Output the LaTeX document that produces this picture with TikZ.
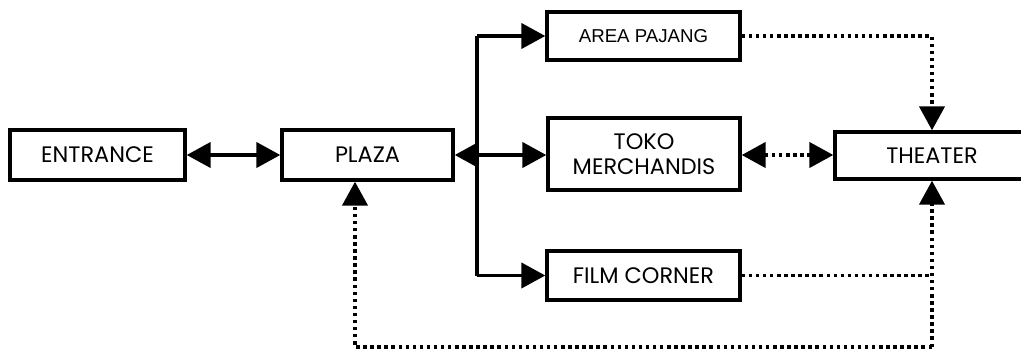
\documentclass[tikz,border=0pt]{standalone}
\usepackage{fontspec}
\setmainfont{Poppins}
\newfontfamily\arialf{Liberation Sans}
\usetikzlibrary{arrows.meta}
\tikzset{
  box/.style={draw, line width=2.6pt, fill=white, inner sep=0pt, align=center,
    font=\fontsize{16.8}{18.75}\selectfont},
  conn/.style={line width=2.5pt},
  dots/.style={line width=2.6pt, dash pattern=on 2.6pt off 2.7pt},
  tip/.style={-{Triangle[length=18pt,width=19pt]}},
  tips/.style={{Triangle[length=18pt,width=19pt]}-{Triangle[length=18pt,width=19pt]}}
}
\begin{document}
\begin{tikzpicture}[x=0.75pt,y=-0.75pt]
\useasboundingbox (0,0) rectangle (1021,350);
\node[box, minimum width=131.25pt, minimum height=37.5pt] (entrance) at (97.5,155) {ENTRANCE};
\node[box, minimum width=128.25pt, minimum height=37.5pt] (plaza) at (367.5,155) {PLAZA};
\node[box, minimum width=144.75pt, minimum height=36pt, font=\arialf\fontsize{14}{15}\selectfont] (area) at (643.5,36) {AREA PAJANG};
\node[box, minimum width=144pt, minimum height=54pt] (toko) at (644,154) {TOKO\\MERCHANDIS};
\node[box, minimum width=145.5pt, minimum height=35.25pt] (theater) at (932,155.5) {THEATER};
\node[box, minimum width=144.75pt, minimum height=36.75pt] (film) at (643.5,275.5) {FILM CORNER};
\coordinate (tr) at (477,155);
\coordinate (bl) at (355,347);
\coordinate (br) at (932,347);
% solid connectors
\draw[conn, tips] (entrance.east) -- (plaza.west);
\draw[conn] (tr |- area.west) -- (tr |- film.west);
\draw[conn, tip] (tr |- area.west) -- (area.west);
\draw[conn, tip] (tr) -- (plaza.east);
\draw[conn, tip] (tr) -- (toko.west |- tr);
\draw[conn, tip] (tr |- film.west) -- (film.west);
% dotted connectors
\draw[dots, tips] (toko.east |- tr) -- (theater.west |- tr);
\draw[dots, tip] (area.east) -| (theater.north);
\draw[dots] (film.east) -- (film.east -| br);
\draw[dots, tip] (br) -- (theater.south);
\draw[dots, tip] (br) -- (bl) -- (bl |- plaza.south);
\end{tikzpicture}
\end{document}
